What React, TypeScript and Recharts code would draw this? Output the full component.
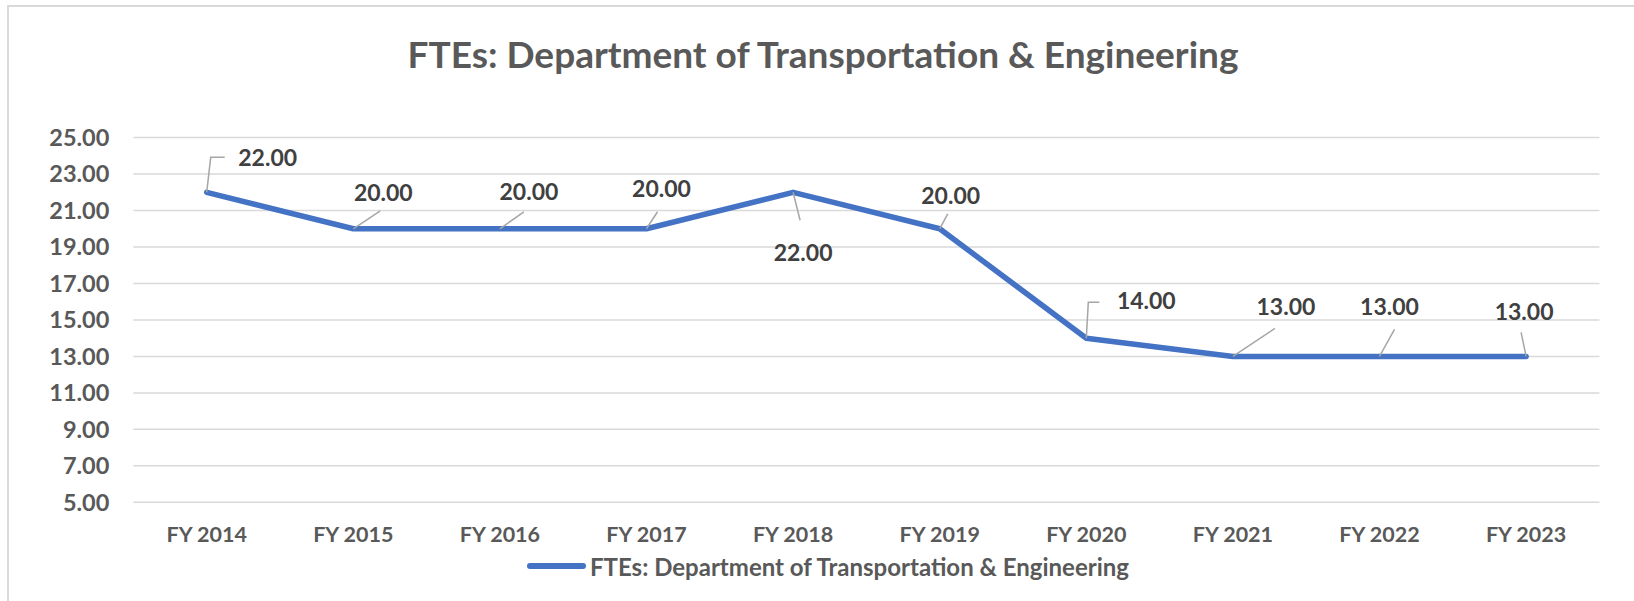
import React from 'react';
import { LineChart, Line, XAxis, YAxis, CartesianGrid, Legend, LabelList } from 'recharts';

const years = ['FY 2014', 'FY 2015', 'FY 2016', 'FY 2017', 'FY 2018', 'FY 2019', 'FY 2020', 'FY 2021', 'FY 2022', 'FY 2023'];
const ftes = [22, 20, 20, 20, 22, 20, 14, 13, 13, 13];
const yTicks = [5, 7, 9, 11, 13, 15, 17, 19, 21, 23, 25];
const seriesName = 'FTEs: Department of Transportation & Engineering';
const title = 'FTEs: Department of Transportation & Engineering';

// where each data label sits relative to its point, and the leader line back to it
const labelPlacement: { dx: number; dy: number; leader: number[][] }[] = [
  { dx: 61, dy: -35, leader: [[4, -35], [18, -35]] },
  { dx: 30, dy: -37, leader: [[27, -18]] },
  { dx: 29, dy: -38, leader: [[24, -17]] },
  { dx: 15, dy: -41, leader: [[11, -17]] },
  { dx: 10, dy: 60, leader: [[7, 28]] },
  { dx: 11, dy: -34, leader: [[8, -15]] },
  { dx: 60, dy: -38, leader: [[2, -36], [13, -36]] },
  { dx: 53, dy: -50, leader: [[42, -28]] },
  { dx: 10, dy: -50, leader: [[15, -27]] },
  { dx: -2, dy: -45, leader: [[-5, -24]] },
];

const data = years.map((year, i) => ({ year, ftes: ftes[i] }));

const FONT = 'Lato, "Noto Sans", sans-serif';
const BLUE = '#4472C4';

const DataLabel = (props: any) => {
  const { x, y, value, index } = props;
  const p = labelPlacement[index];
  if (!p) return null;
  const pts = [[0, 0], ...p.leader].map(([a, b]) => `${x + a},${y + b}`).join(' ');
  return (
    <g>
      <polyline points={pts} fill="none" stroke="#A6A6A6" strokeWidth={1.5} />
      <text
        x={x + p.dx}
        y={y + p.dy}
        textAnchor="middle"
        dominantBaseline="central"
        fill="#404040"
        fontSize={23}
        fontWeight={700}
        fontFamily={FONT}
      >
        {Number(value).toFixed(2)}
      </text>
    </g>
  );
};

const LegendContent = () => (
  <div style={{ height: 70, display: 'flex', alignItems: 'center', paddingLeft: 527, fontFamily: FONT }}>
    <div style={{ width: 59, height: 5.5, borderRadius: 3, background: BLUE }} />
    <span style={{ marginLeft: 4, fontSize: 24, fontWeight: 700, color: '#595959' }}>{seriesName}</span>
  </div>
);

export default function App() {
  return (
    <div style={{ position: 'absolute', left: 0, top: 0, width: 1634, height: 601, overflow: 'hidden', background: '#fff' }}>
      <div
        style={{
          position: 'absolute',
          left: 7,
          top: 5,
          width: 1700,
          height: 700,
          border: '2px solid #D9D9D9',
        }}
      />
      <div
        style={{
          position: 'absolute',
          left: 0,
          width: 1646,
          top: 32,
          height: 44,
          lineHeight: '44px',
          textAlign: 'center',
          fontFamily: FONT,
          fontWeight: 700,
          fontSize: 37,
          color: '#595959',
        }}
      >
        {title}
      </div>
      <LineChart
        width={1634}
        height={601}
        data={data}
        margin={{ top: 137.6, right: 34.6, bottom: 0, left: 0 }}
        style={{ position: 'absolute', left: 0, top: 0 }}
      >
        <CartesianGrid vertical={false} stroke="#D9D9D9" strokeWidth={1.5} />
        <XAxis
          dataKey="year"
          axisLine={false}
          tickLine={false}
          tickSize={0}
          tickMargin={24}
          height={28.7}
          interval={0}
          padding={{ left: 73.3, right: 73.3 }}
          tick={{ fill: '#595959', fontSize: 21.5, fontWeight: 700, fontFamily: FONT }}
        />
        <YAxis
          domain={[5, 25]}
          ticks={yTicks}
          axisLine={false}
          tickLine={false}
          tickSize={0}
          tickMargin={24}
          width={133.4}
          tickFormatter={(v: number) => v.toFixed(2)}
          tick={{ fill: '#595959', fontSize: 23.5, fontWeight: 700, fontFamily: FONT }}
        />
        <Legend verticalAlign="bottom" content={<LegendContent />} />
        <Line
          type="linear"
          dataKey="ftes"
          name={seriesName}
          stroke={BLUE}
          strokeWidth={5.5}
          strokeLinejoin="round"
          strokeLinecap="round"
          dot={false}
          activeDot={false}
          isAnimationActive={false}
        >
          <LabelList dataKey="ftes" content={<DataLabel />} />
        </Line>
      </LineChart>
    </div>
  );
}
